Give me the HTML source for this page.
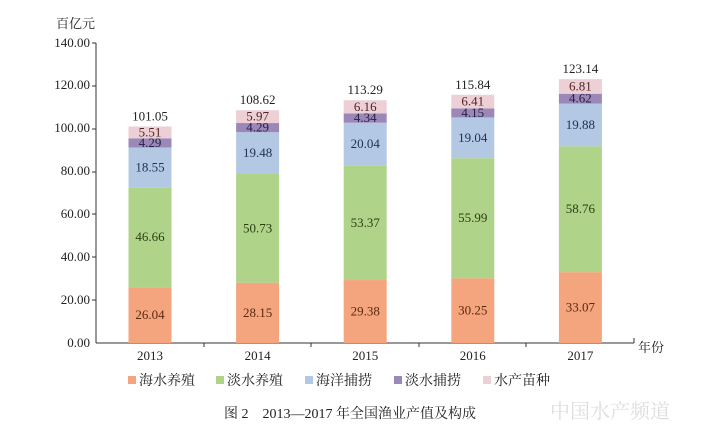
<!DOCTYPE html><html><head><meta charset="utf-8"><style>
body{margin:0;background:#fff;width:727px;height:424px;overflow:hidden}
text{font-family:"Liberation Serif","Noto Serif CJK SC",serif;fill:#222}
</style></head><body>
<svg width="727" height="424" xmlns="http://www.w3.org/2000/svg">
<g font-size="13" text-anchor="end">
<text x="90" y="347">0.00</text><text x="90" y="304">20.00</text><text x="90" y="261">40.00</text><text x="90" y="218">60.00</text><text x="90" y="175">80.00</text><text x="90" y="132">100.00</text><text x="90" y="89">120.00</text><text x="90" y="47">140.00</text>
</g>
<text x="56" y="28" font-size="13">百亿元</text>
<g stroke="#333" stroke-width="1">
<line x1="96" y1="43" x2="96" y2="343"/><line x1="96" y1="343" x2="634" y2="343"/>
<line x1="92" y1="43" x2="96" y2="43"/><line x1="92" y1="86" x2="96" y2="86"/><line x1="92" y1="129" x2="96" y2="129"/><line x1="92" y1="172" x2="96" y2="172"/><line x1="92" y1="214" x2="96" y2="214"/><line x1="92" y1="257" x2="96" y2="257"/><line x1="92" y1="300" x2="96" y2="300"/>
<line x1="204" y1="343" x2="204" y2="347"/><line x1="311" y1="343" x2="311" y2="347"/><line x1="419" y1="343" x2="419" y2="347"/><line x1="526" y1="343" x2="526" y2="347"/><line x1="634" y1="338" x2="634" y2="343"/>
</g>
<text x="638" y="352" font-size="13">年份</text>

<g>
<rect x="128.5" y="287.2" width="43" height="55.8" fill="#f4a57e"/>
<rect x="128.5" y="187.21" width="43" height="99.99" fill="#b0d38a"/>
<rect x="128.5" y="147.46" width="43" height="39.75" fill="#b3c8e2"/>
<rect x="128.5" y="138.27" width="43" height="9.19" fill="#9b88b9"/>
<rect x="128.5" y="126.46" width="43" height="11.81" fill="#ecd0d6"/>

<rect x="236.1" y="282.68" width="43" height="60.32" fill="#f4a57e"/>
<rect x="236.1" y="173.97" width="43" height="108.71" fill="#b0d38a"/>
<rect x="236.1" y="132.23" width="43" height="41.74" fill="#b3c8e2"/>
<rect x="236.1" y="123.04" width="43" height="9.19" fill="#9b88b9"/>
<rect x="236.1" y="110.24" width="43" height="12.8" fill="#ecd0d6"/>

<rect x="343.7" y="280.04" width="43" height="62.96" fill="#f4a57e"/>
<rect x="343.7" y="165.68" width="43" height="114.36" fill="#b0d38a"/>
<rect x="343.7" y="122.74" width="43" height="42.94" fill="#b3c8e2"/>
<rect x="343.7" y="113.44" width="43" height="9.3" fill="#9b88b9"/>
<rect x="343.7" y="100.24" width="43" height="13.2" fill="#ecd0d6"/>

<rect x="451.3" y="278.18" width="43" height="64.82" fill="#f4a57e"/>
<rect x="451.3" y="158.2" width="43" height="119.98" fill="#b0d38a"/>
<rect x="451.3" y="117.4" width="43" height="40.8" fill="#b3c8e2"/>
<rect x="451.3" y="108.51" width="43" height="8.89" fill="#9b88b9"/>
<rect x="451.3" y="94.77" width="43" height="13.74" fill="#ecd0d6"/>

<rect x="558.9" y="272.14" width="43" height="70.86" fill="#f4a57e"/>
<rect x="558.9" y="146.22" width="43" height="125.92" fill="#b0d38a"/>
<rect x="558.9" y="103.62" width="43" height="42.6" fill="#b3c8e2"/>
<rect x="558.9" y="93.72" width="43" height="9.9" fill="#9b88b9"/>
<rect x="558.9" y="79.13" width="43" height="14.59" fill="#ecd0d6"/>
</g>

<g font-size="13" text-anchor="middle">
<text x="150" y="319.1" style="fill:#5a2a10">26.04</text>
<text x="150" y="241.2" style="fill:#2a4010">46.66</text>
<text x="150" y="171.3" style="fill:#223355">18.55</text>
<text x="150" y="146.9" style="fill:#222244">4.29</text>
<text x="150" y="136.4" style="fill:#552222">5.51</text>
<text x="150" y="120.5">101.05</text>

<text x="257.6" y="316.8" style="fill:#5a2a10">28.15</text>
<text x="257.6" y="232.3" style="fill:#2a4010">50.73</text>
<text x="257.6" y="157.1" style="fill:#223355">19.48</text>
<text x="257.6" y="131.6" style="fill:#222244">4.29</text>
<text x="257.6" y="120.6" style="fill:#552222">5.97</text>
<text x="257.6" y="104.2">108.62</text>

<text x="365.2" y="315.5" style="fill:#5a2a10">29.38</text>
<text x="365.2" y="226.9" style="fill:#2a4010">53.37</text>
<text x="365.2" y="148.2" style="fill:#223355">20.04</text>
<text x="365.2" y="122.1" style="fill:#222244">4.34</text>
<text x="365.2" y="110.8" style="fill:#552222">6.16</text>
<text x="365.2" y="94.2">113.29</text>

<text x="472.8" y="314.6" style="fill:#5a2a10">30.25</text>
<text x="472.8" y="222.2" style="fill:#2a4010">55.99</text>
<text x="472.8" y="141.8" style="fill:#223355">19.04</text>
<text x="472.8" y="117.0" style="fill:#222244">4.15</text>
<text x="472.8" y="105.6" style="fill:#552222">6.41</text>
<text x="472.8" y="88.8">115.84</text>

<text x="580.4" y="311.6" style="fill:#5a2a10">33.07</text>
<text x="580.4" y="213.2" style="fill:#2a4010">58.76</text>
<text x="580.4" y="128.9" style="fill:#223355">19.88</text>
<text x="580.4" y="102.7" style="fill:#222244">4.62</text>
<text x="580.4" y="90.4" style="fill:#552222">6.81</text>
<text x="580.4" y="73.1">123.14</text>
</g>

<g font-size="13" text-anchor="middle">
<text x="150" y="360">2013</text><text x="257.6" y="360">2014</text><text x="365.2" y="360">2015</text><text x="472.8" y="360">2016</text><text x="580.4" y="360">2017</text>
</g>
<g font-size="14">
<rect x="128" y="376" width="8" height="8" fill="#f4a57e"/><text x="139" y="385">海水养殖</text>
<rect x="216" y="376" width="8" height="8" fill="#b0d38a"/><text x="227" y="385">淡水养殖</text>
<rect x="305" y="376" width="8" height="8" fill="#b3c8e2"/><text x="316" y="385">海洋捕捞</text>
<rect x="394" y="376" width="8" height="8" fill="#9b88b9"/><text x="405" y="385">淡水捕捞</text>
<rect x="483" y="376" width="8" height="8" fill="#ecd0d6"/><text x="494" y="385">水产苗种</text>
</g>
<text x="224" y="418" font-size="14">图 2　2013—2017 年全国渔业产值及构成</text>
<text x="550" y="418" font-size="20" style="fill:#ddd" font-family="Liberation Sans,Noto Sans CJK SC,sans-serif">中国水产频道</text>
</svg></body></html>
